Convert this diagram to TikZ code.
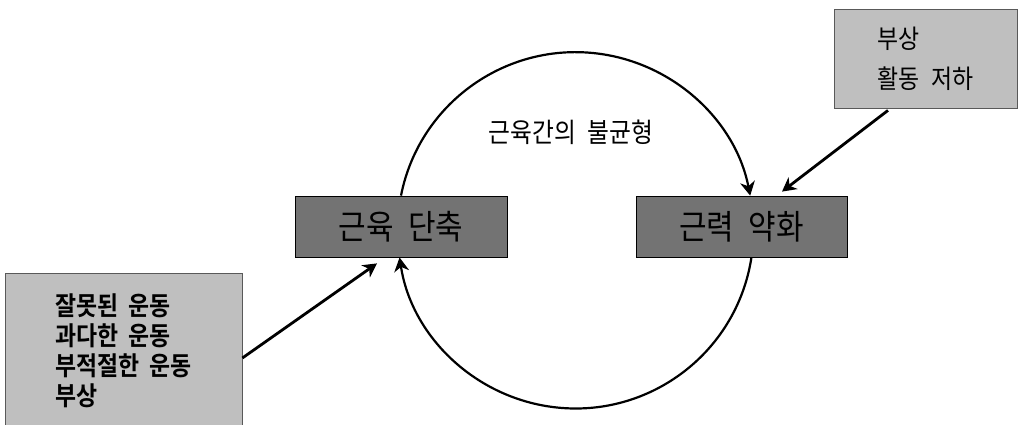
\documentclass[tikz,border=0pt]{standalone}
\usepackage{fontspec}
\newfontfamily\kr[WordSpace=2.2,FakeStretch=0.88,BoldFont={Noto Sans CJK KR Bold},BoldFeatures={FakeStretch=0.88,WordSpace=2.0}]{Noto Sans CJK KR}
\usetikzlibrary{arrows.meta,calc}
\definecolor{darkfill}{gray}{0.45}
\definecolor{lightfill}{gray}{0.75}
\tikzset{
  darkbox/.style={draw=black,line width=0.8pt,fill=darkfill,inner sep=0pt,
    minimum width=212pt,minimum height=61.5pt,font=\kr\fontsize{34}{38}\selectfont},
  lightbox/.style={draw=black!65,line width=0.8pt,fill=lightfill,inner sep=0pt,align=left},
  cyc/.style={line width=2.2pt,-{Stealth[length=14pt,width=15pt,inset=4.5pt,line width=1.2pt]}},
  arr/.style={line width=2.8pt,-{Stealth[length=14pt,width=15pt,inset=4.5pt,line width=1.2pt]}},
  lbl/.style={font=\kr\fontsize{27}{30}\selectfont,inner sep=0pt}
}
\begin{document}
\begin{tikzpicture}[x=1pt,y=1pt]
\useasboundingbox (0,0) rectangle (1018,425);
\clip (0,0) rectangle (1018,425);
\coordinate (c) at (575.5,194.5);
% boxes
\node[darkbox] (A) at (401,198.25) {근육 단축};
\node[darkbox,minimum width=211pt] (B) at (741.5,198.25) {근력 약화};
\node[lightbox,minimum width=237pt,minimum height=155pt,
  font=\kr\bfseries\fontsize{26}{30}\selectfont] (D) at (123.5,74.5)
  {잘못된 운동\\과다한 운동\\부적절한 운동\\부상};
\node[lightbox,minimum width=183pt,minimum height=99pt,
  font=\kr\fontsize{26}{40}\selectfont] (E) at (925.5,366.5)
  {부상\\활동 저하};
\node[lbl] (L) at (571,293) {근육간의 불균형};
% cycle arcs
\draw[cyc] (A.north) arc[start angle=168.8,end angle=11.2,radius=178];
\draw[cyc] ($(c)+(-8.72:178)$) arc[start angle=-8.72,end angle=-171.28,radius=178];
% straight arrows
\draw[arr] ([yshift=-7.5pt]D.east) -- ([xshift=-24pt,yshift=-5.5pt]A.south);
\draw[arr] ([xshift=-37.5pt,yshift=-2pt]E.south) -- ([xshift=40.5pt,yshift=4pt]B.north);
\end{tikzpicture}
\end{document}
